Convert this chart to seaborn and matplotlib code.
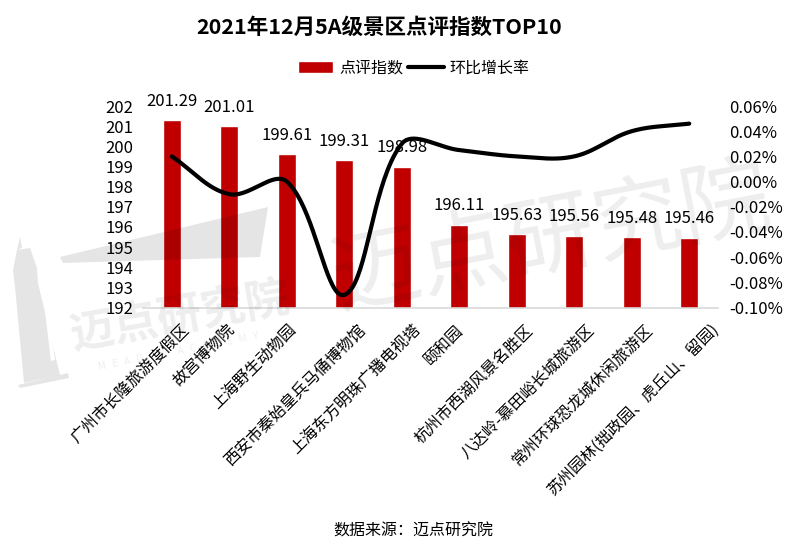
#!/usr/bin/env python3
"""
2021年12月5A级景区点评指数TOP10
"""

import matplotlib
matplotlib.use('Agg')
import matplotlib.pyplot as plt
from matplotlib.patches import Polygon, Patch
from matplotlib.lines import Line2D
from matplotlib.transforms import ScaledTranslation
import numpy as np
import pandas as pd
import seaborn as sns

# Data
scenic_spots = ['广州市长隆旅游度假区', '故宫博物院', '上海野生动物园', '西安市秦始皇兵马俑博物馆',
                '上海东方明珠广播电视塔', '颐和园', '杭州市西湖风景名胜区', '八达岭-慕田峪长城旅游区',
                '常州环球恐龙城休闲旅游区', '苏州园林(拙政园、虎丘山、留园)']
review_index = [201.29, 201.01, 199.61, 199.31, 198.98, 196.11, 195.63, 195.56, 195.48, 195.46]
growth_rate = [0.02, -0.01, 0.0, -0.09, 0.03, 0.025, 0.02, 0.02, 0.04, 0.046]
left_ticks = [192, 193, 194, 195, 196, 197, 198, 199, 200, 201, 202]
right_ticks = [-0.10, -0.08, -0.06, -0.04, -0.02, 0.0, 0.02, 0.04, 0.06]

# sideways nudge of each rotated label, in pixels
label_shift = [9, -3, 2, 13, 11, -5, 8, 12, 13, 21]

W, H = 800, 547
RED = '#C00000'
TENSION = 0.36


def px(x, y):
    # reference pixels -> figure fraction
    return x / W, 1 - y / H


def smooth_line(values, x_scale, y_scale, n=40):
    # spreadsheet style smoothed line: bezier segments, handle length follows chord length
    P = np.column_stack([np.arange(len(values)) * x_scale, np.array(values) * y_scale])
    P = np.vstack([P[0], P, P[-1]])
    out = []
    handles_out = []
    handles_in = []
    for i in range(1, len(P) - 1):
        d0 = np.hypot(*(P[i] - P[i - 1]))
        d1 = np.hypot(*(P[i + 1] - P[i]))
        tangent = P[i + 1] - P[i - 1]
        total = d0 + d1
        handles_in.append(P[i] - TENSION * d0 / total * tangent)
        handles_out.append(P[i] + TENSION * d1 / total * tangent)
    pts = P[1:-1]
    t = np.linspace(0, 1, n)[:, None]
    for i in range(len(pts) - 1):
        a, b, c, d = pts[i], handles_out[i], handles_in[i + 1], pts[i + 1]
        out.append((1 - t) ** 3 * a + 3 * (1 - t) ** 2 * t * b + 3 * (1 - t) * t ** 2 * c + t ** 3 * d)
    out = np.vstack(out)
    return out[:, 0] / x_scale, out[:, 1] / y_scale


sns.set_theme(style='white')
plt.rcParams['font.family'] = ['Noto Sans CJK SC', 'DejaVu Sans']
plt.rcParams['axes.unicode_minus'] = False

fig = plt.figure(figsize=(W / 100, H / 100), dpi=100, facecolor='white')
ax = fig.add_axes([143 / W, 1 - 307.5 / H, 575 / W, 201.5 / H])

# Bars
df = pd.DataFrame({'spot': scenic_spots, 'index': review_index})
sns.barplot(data=df, x='spot', y='index', color=RED, saturation=1, width=0.32, ax=ax)
ax.set_ylim(192, 202)
ax.set_xlim(-0.5, 9.5)
ax.set_xlabel('')
ax.set_ylabel('')
ax.set_yticks(left_ticks)
ax.tick_params(axis='y', length=0, pad=7, labelsize=12, labelcolor='black')
ax.set_xticks(range(len(scenic_spots)))
ax.set_xticklabels(scenic_spots, rotation=45, ha='right', va='top', rotation_mode='anchor',
                   fontsize=11.5, color='black')
ax.tick_params(axis='x', length=0, pad=8)
for label, dx in zip(ax.get_xticklabels(), label_shift):
    label.set_transform(label.get_transform() + ScaledTranslation(dx / 100, -3 / 100, fig.dpi_scale_trans))
for s in ['top', 'left', 'right']:
    ax.spines[s].set_visible(False)
ax.spines['bottom'].set_color('#D9D9D9')
ax.spines['bottom'].set_linewidth(1.2)
ax.grid(False)

# Value labels
for i, v in enumerate(review_index):
    ax.annotate(f'{v:.2f}', (i, v), xytext=(0, 7.5), textcoords='offset points',
                ha='center', va='bottom', fontsize=12, color='black')

# Growth line on the second axis
ax2 = ax.twinx()
line_x, line_y = smooth_line(growth_rate, 575 / 10, 201.5 / 0.16)
sns.lineplot(x=line_x, y=line_y, color='black', linewidth=3, ax=ax2, legend=False, sort=False,
             estimator=None, solid_capstyle='round')
ax2.set_ylim(-0.10, 0.06)
ax2.set_yticks(right_ticks)
ax2.set_yticklabels([f'{t:.2f}%' for t in right_ticks])
ax2.tick_params(axis='y', length=0, pad=8, labelsize=12, labelcolor='black')
for s in ax2.spines.values():
    s.set_visible(False)
ax2.grid(False)

# Title, legend, source
fig.text(*px(379, 27.5), '2021年12月5A级景区点评指数TOP10', ha='center', va='center',
         fontsize=15.5, fontweight='bold', color='black')
handles = [Patch(facecolor=RED, label='点评指数'),
           Line2D([0], [0], color='black', linewidth=3, solid_capstyle='round', label='环比增长率')]
fig.legend(handles=handles, loc='center', bbox_to_anchor=px(414, 68), ncol=2, frameon=False,
           fontsize=11.5, handlelength=2.2, handleheight=0.7, handletextpad=0.4,
           columnspacing=0.3, labelcolor='black')
fig.text(*px(413, 531), '数据来源：迈点研究院', ha='center', va='center', fontsize=11.5, color='black')

# Watermark
mark = dict(color='#000000', alpha=0.07, zorder=5, ha='center', va='center', rotation_mode='anchor')
fig.text(*px(552, 240), '迈点研究院', fontsize=64, rotation=11, **mark)
fig.text(*px(180, 317), '迈点研究院', fontsize=32, rotation=10, fontweight='bold', **mark)
fig.text(*px(178, 352), 'M   E   A   D   I   N      A   C   A   D   E   M   Y', fontsize=7, rotation=11, **mark)
shapes = [
    [(60, 257), (268, 207), (260, 257), (63, 263)],
    [(15, 287), (38, 283), (60, 375), (24, 383)],
    [(18, 385), (68, 373), (69, 378), (20, 388)],
    [(13, 270), (17, 250), (30, 248), (37, 268), (38, 283), (15, 287)],
    [(17, 250), (20, 237), (22, 248)],
]
for pts in shapes:
    fig.add_artist(Polygon([px(*p) for p in pts], closed=True, transform=fig.transFigure,
                           facecolor='#000000', edgecolor='none', alpha=0.1, zorder=5))
fig.add_artist(Polygon([px(*p) for p in [(44, 303), (47, 302), (55, 360), (51, 361)]], closed=True,
                       transform=fig.transFigure, facecolor='white', edgecolor='none', zorder=6))

plt.savefig('out.png', dpi=100)
